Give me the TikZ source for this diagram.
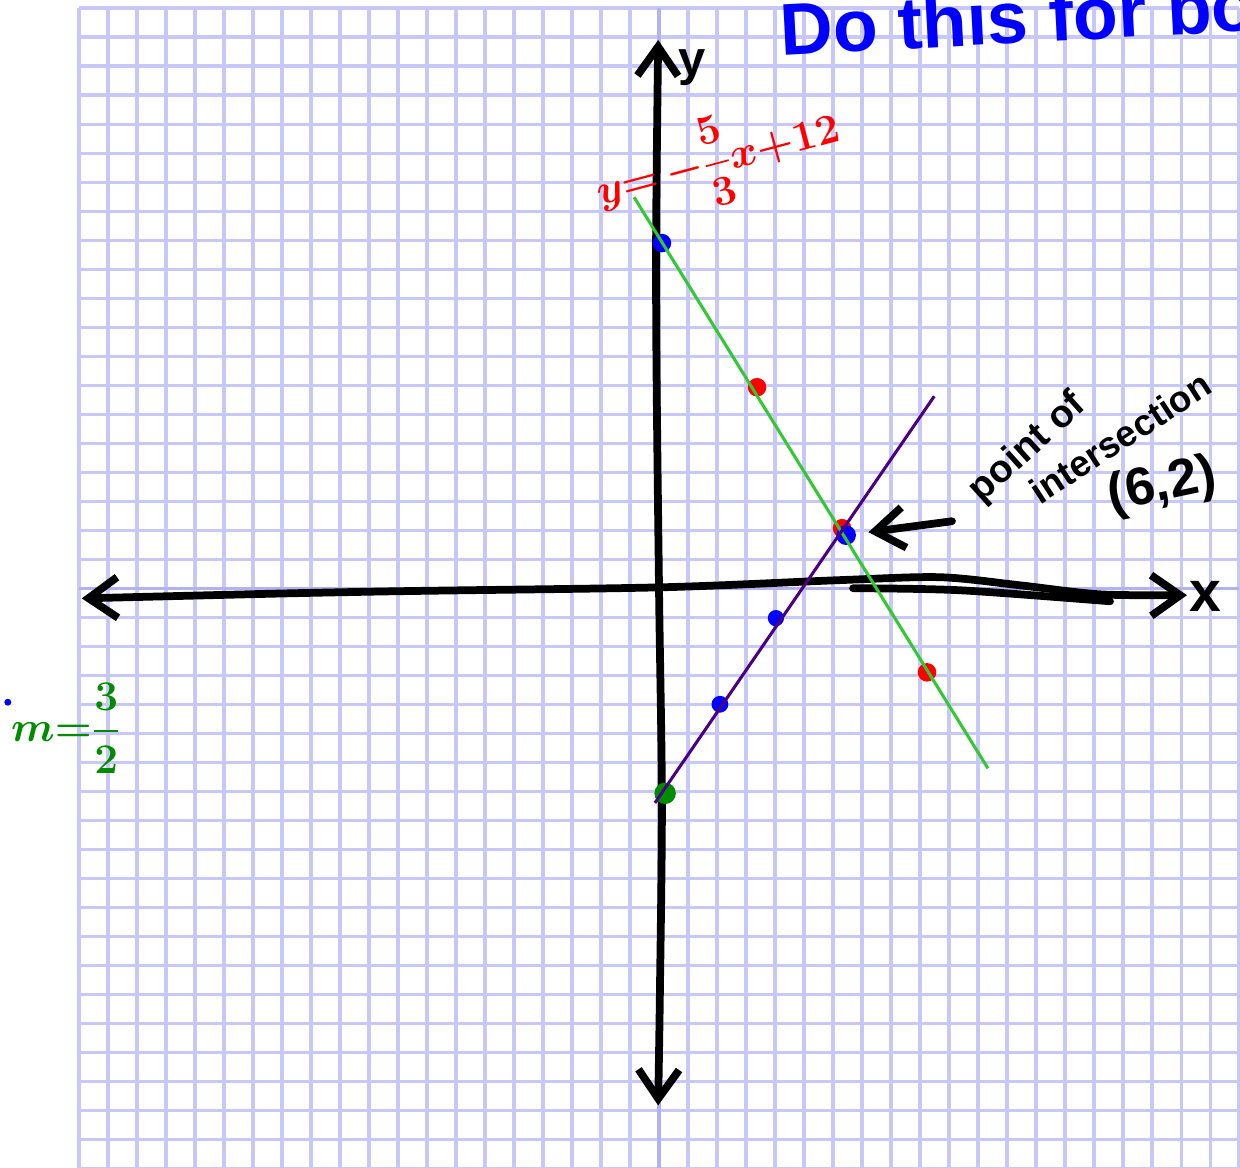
\documentclass[tikz,border=0pt]{standalone}
\usepackage{amsmath}
\usepackage{fontspec}
\setmainfont{Liberation Sans}
\usetikzlibrary{arrows.meta}
\definecolor{gridblue}{RGB}{200,200,248}
\definecolor{gridaxis}{RGB}{178,178,242}
\definecolor{linegreen}{RGB}{50,200,50}
\definecolor{markgreen}{RGB}{0,140,0}
\definecolor{indigoline}{RGB}{75,0,130}
\tikzset{
  dot/.style={circle,inner sep=0pt,minimum size=#1},
  dot/.default=3.2mm,
  axisline/.style={line width=3.8pt,line cap=round,line join=round},
  marker/.style={font=\fontsize{#1}{#1}\selectfont\bfseries},
}
\begin{document}
\begin{tikzpicture}[x=0.5cm,y=0.5cm,>={Straight Barb[length=5mm,width=7mm]}]
  \useasboundingbox (-22.72,-19.97) rectangle (20.03,20.28);
  \fill[white] (-22.72,-19.97) rectangle (20.03,20.28);
  \draw[gridblue,line width=1.6pt,step=1] (-20,-20) grid (20,20);
  \draw[gridaxis,line width=1.6pt] (-20,0) -- (20,0) (0,-20) -- (0,20);
  \node[blue,anchor=base west,rotate=3,marker=36] (title) at (3.97,18.35) {Do this for both};
  \draw[axisline,<->] plot[smooth] coordinates {(-19.9,-0.35) (-10,-0.12) (0,0.03) (6.24,0.28) (9.69,0.38) (12.45,0.1) (15.2,-0.21) (18.2,-0.24)};
  \draw[axisline] plot[smooth] coordinates {(6.69,0) (10.38,-0.07) (15.55,-0.45)};
  \draw[axisline,<->] plot[smooth] coordinates {(-0.03,18.9) (-0.1,9.93) (0,0) (0.1,-7.31) (0.03,-14) (-0.03,-17.83)};
  \node[marker=24] (ylab) at (1.15,17.95) {y};
  \node[marker=28] (xlab) at (18.83,-0.28) {x};
  \node[dot,fill=blue] (b1) at (0.10,11.90) {};
  \node[dot,fill=red] (r1) at (3.38,6.93) {};
  \node[dot,fill=red] (r2) at (6.31,2.07) {};
  \node[dot=3.4mm,fill=blue] (b2) at (6.45,1.83) {};
  \node[dot,fill=red] (r3) at (9.24,-2.90) {};
  \node[dot=2.8mm,fill=blue] (b3) at (4.03,-1.03) {};
  \node[dot=2.9mm,fill=blue] (b4) at (2.10,-4.00) {};
  \node[dot=3.7mm,fill=markgreen] (g0) at (0.21,-7.07) {};
  \node[dot=1.2mm,fill=blue] (speck) at (-22.45,-3.93) {};
  \coordinate (g1) at (-0.86,13.48);
  \coordinate (g2) at (11.34,-6.21);
  \coordinate (p1) at (-0.14,-7.40);
  \coordinate (p2) at (9.49,6.62);
  \draw[linegreen,line width=1.5pt] (g1) -- (g2);
  \draw[indigoline,line width=1.5pt] (p1) -- (p2);
  \node[red,rotate=15,font=\fontsize{22}{24}\selectfont\boldmath] (eqgreen) at (2.03,14.76) {$y{=}\,{-}\dfrac{5}{3}x{+}12$};
  \node[markgreen,font=\fontsize{20}{22}\selectfont\boldmath] (slope) at (-20.45,-4.83) {$m{=}\dfrac{3}{2}$};
  \node[marker=19,rotate=42] (lab1) at (12.72,4.83) {point of};
  \node[marker=18,rotate=33] (lab2) at (15.9,5.2) {intersection};
  \node[marker=26,rotate=12] (lab3) at (17.35,3.5) {(6,2)};
  \coordinate (ptr) at (10.10,2.31);
  \draw[axisline,->={Straight Barb[length=2.6mm,width=5mm]},shorten >=6pt] (ptr) -- (b2);
\end{tikzpicture}
\end{document}
